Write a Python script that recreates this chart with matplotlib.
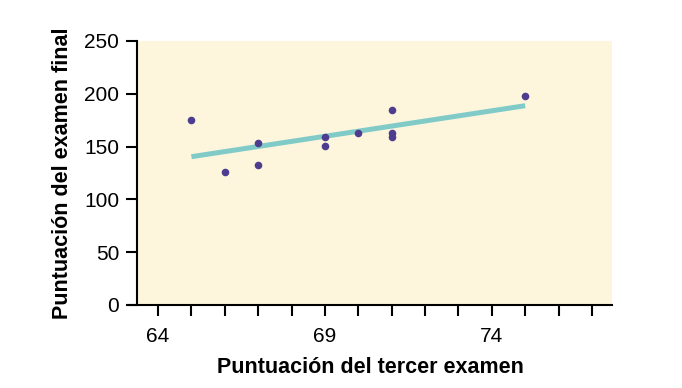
import matplotlib
matplotlib.use("Agg")
import matplotlib.pyplot as plt
import numpy as np

plt.rcParams['font.family'] = ['Liberation Sans', 'DejaVu Sans']

third_exam = [65, 67, 71, 71, 66, 75, 67, 70, 71, 69, 69]
final_exam = [175, 133, 185, 163, 126, 198, 153, 163, 159, 151, 159]
line_x = [65, 75]
intercept = -173.51
slope = 4.83
x_ticks = [64, 69, 74]
y_ticks = [0, 50, 100, 150, 200, 250]

fig = plt.figure(figsize=(6.82, 3.88), dpi=100)
ax = fig.add_axes([128/682, 1-305/388, (612-128)/682, (305-41)/388])
ax.set_facecolor('none')
xmin, xmax = 63.1, 77.6
yspine = 63.38
ax.set_xlim(xmin, xmax)
ax.set_ylim(0, 250)
ax.axvspan(yspine, xmax, color='#fdf6dd', zorder=0, lw=0)

lx = np.array(line_x)
ax.plot(lx, intercept + slope*lx, color='#80cbc8', lw=3.6, solid_capstyle='butt', zorder=2)
ax.scatter(third_exam, final_exam, s=30, color='#4e3d8e', zorder=3, lw=0)

ax.spines['top'].set_visible(False)
ax.spines['right'].set_visible(False)
ax.spines['left'].set_position(('data', yspine))
for s in ['left', 'bottom']:
    ax.spines[s].set_linewidth(1.5)
    ax.spines[s].set_color('black')

ax.set_xticks(range(64, 78))
ax.set_xticklabels([str(t) if t in x_ticks else '' for t in range(64, 78)])
ax.set_yticks(y_ticks)
ax.tick_params(axis='both', length=8, width=1.5, labelsize=15, direction='out')
ax.tick_params(axis='x', pad=8)
ax.tick_params(axis='y', pad=5)

ax.set_xlabel('Puntuación del tercer examen', fontsize=15.5, fontweight='bold', labelpad=8)
ax.set_ylabel('Puntuación del examen final', fontsize=15.5, fontweight='bold', labelpad=8)

fig.savefig('out.png', dpi=100)
